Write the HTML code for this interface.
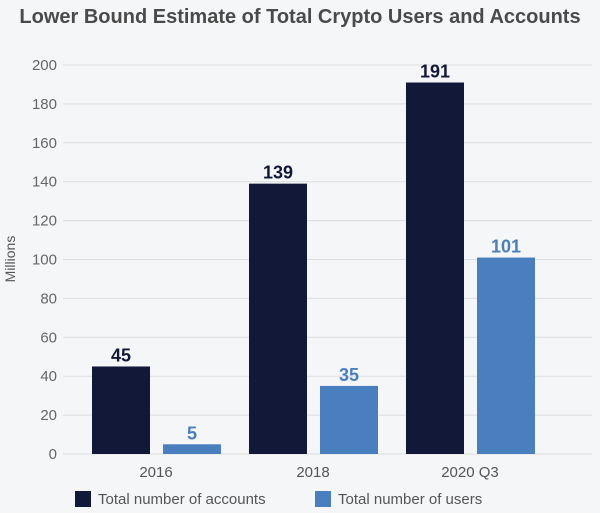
<!DOCTYPE html>
<html><head><meta charset="utf-8"><style>
body{margin:0;background:#f5f6f8;}
svg{display:block;font-family:"Liberation Sans",sans-serif;}
</style></head><body>
<svg id="c" width="600" height="513">
<rect width="600" height="513" fill="#f5f6f8"/>
<text x="300" y="23" text-anchor="middle" font-size="20" font-weight="bold" fill="#4a4a4a">Lower Bound Estimate of Total Crypto Users and Accounts</text>
<text transform="translate(15,259) rotate(-90)" text-anchor="middle" font-size="14" fill="#555">Millions</text>
<g id="grid"></g><g id="bars"></g>
<rect x="75" y="491" width="16" height="16" fill="#111838"/>
<text x="98" y="504" font-size="15" fill="#555">Total number of accounts</text>
<rect x="315" y="491" width="16" height="16" fill="#4a7fbf"/>
<text x="338" y="504" font-size="15" fill="#555">Total number of users</text>
</svg>
<script>
const categories=["2016","2018","2020 Q3"];
const accounts=[45,139,191];
const users=[5,35,101];
const ticks=[0,20,40,60,80,100,120,140,160,180,200];
const NS="http://www.w3.org/2000/svg";
const y=v=>454-v*(389/200);
const groupX=i=>92+i*157;
function mk(tag,a,p){const e=document.createElementNS(NS,tag);for(const k in a)e.setAttribute(k,a[k]);p.appendChild(e);return e;}
const g=document.getElementById('grid'),b=document.getElementById('bars');
ticks.forEach(t=>{
 const l=mk('line',{x1:63,x2:592,y1:y(t),y2:y(t),stroke:'#dcdde0','stroke-width':1},g);
 
 
 const tx=mk('text',{x:57,y:y(t)+5,'text-anchor':'end','font-size':15,fill:'#666'},g);
 tx.textContent=t;
 
 
});
categories.forEach((c,i)=>{
 const x0=groupX(i);
 [[accounts[i],'#111838',0,'bar-accounts'],[users[i],'#4a7fbf',71,'bar-users']].forEach(([v,col,off,nm])=>{
  const r=mk('rect',{x:x0+off,y:y(v),width:58,height:454-y(v),fill:col},b);
  
  
  const t=mk('text',{x:x0+off+29,y:y(v)-5,'text-anchor':'middle','font-size':18,'font-weight':'bold',fill:col},b);
  t.textContent=v;
  
  
 });
 const cl=mk('text',{x:x0+64,y:477,'text-anchor':'middle','font-size':15,fill:'#555'},b);
 cl.textContent=c;
 
 
});
</script>
</body></html>
